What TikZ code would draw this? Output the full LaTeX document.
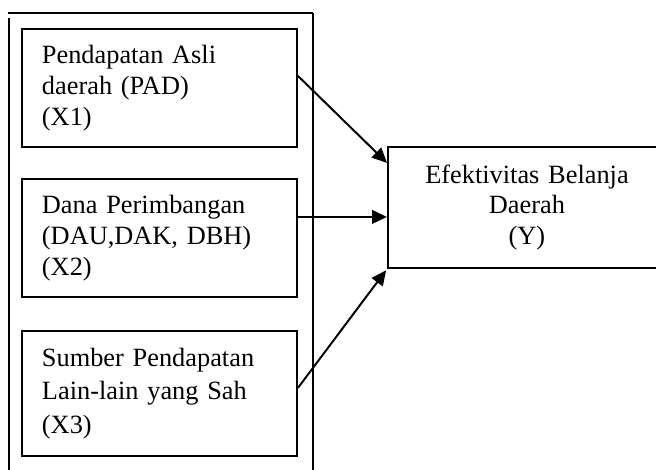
\documentclass[tikz,border=0pt]{standalone}
\usepackage{fontspec}
\setmainfont{Liberation Serif}
\usetikzlibrary{arrows.meta}

\tikzset{
  varbox/.style={draw, line width=0.9pt, anchor=north west, minimum width=125.2pt,
    text width=107pt, inner xsep=9.1pt, inner ysep=0pt, align=left,
    font=\fontsize{12}{14.2}\selectfont},
  depbox/.style={draw, line width=0.9pt, anchor=north west, minimum width=126.6pt,
    minimum height=55.1pt, text width=108pt, inner xsep=9.3pt, inner ysep=0pt, align=center,
    font=\fontsize{12}{13.7}\selectfont},
  arr/.style={line width=0.9pt, -{Triangle[length=6.8pt,width=6.2pt]}},
  frame/.style={line width=0.9pt},
}

\begin{document}
\begin{tikzpicture}[x=0.4554pt,y=0.4554pt,yscale=-1,xscale=1]
\useasboundingbox (0,0) rectangle (656,470);

%Straight Lines
\draw[frame] (8,13) -- (313.5,13) ;
%Straight Lines
\draw[frame] (9,18) -- (9,476) ;
%Straight Lines
\draw[frame] (313,12.5) -- (313,476) ;

%Shape: Rectangle
\node[varbox, minimum height=53.7pt] (x1) at (21,28) {Pendapatan Asli\\daerah (PAD)\\(X1)};
%Shape: Rectangle
\node[varbox, minimum height=53.7pt] (x2) at (21,178) {Dana Perimbangan\\(DAU,DAK, DBH)\\(X2)};
%Shape: Rectangle
\node[varbox, minimum height=56.9pt, font=\fontsize{12}{15.2}\selectfont] (x3) at (21,330) {Sumber Pendapatan\\Lain-lain yang Sah\\(X3)};
%Shape: Rectangle
\node[depbox] (y) at (387,146) {Efektivitas Belanja\\Daerah\\(Y)};

% yscale=-1 flips yshift: positive goes down
\coordinate (y1) at ([yshift=7.7pt]y.north west);
\coordinate (y2) at ([yshift=4.3pt]y.west);

%Straight Lines
\draw[arr] ([yshift=-5.5pt]x1.east) -- (y1) ;
%Straight Lines
\draw[arr] (x2.east |- y2) -- (y2) ;
%Straight Lines
\draw[arr] ([yshift=-2.5pt]x3.east) -- ([xshift=-0.4pt,yshift=0.6pt]y.south west) ;

\end{tikzpicture}
\end{document}
